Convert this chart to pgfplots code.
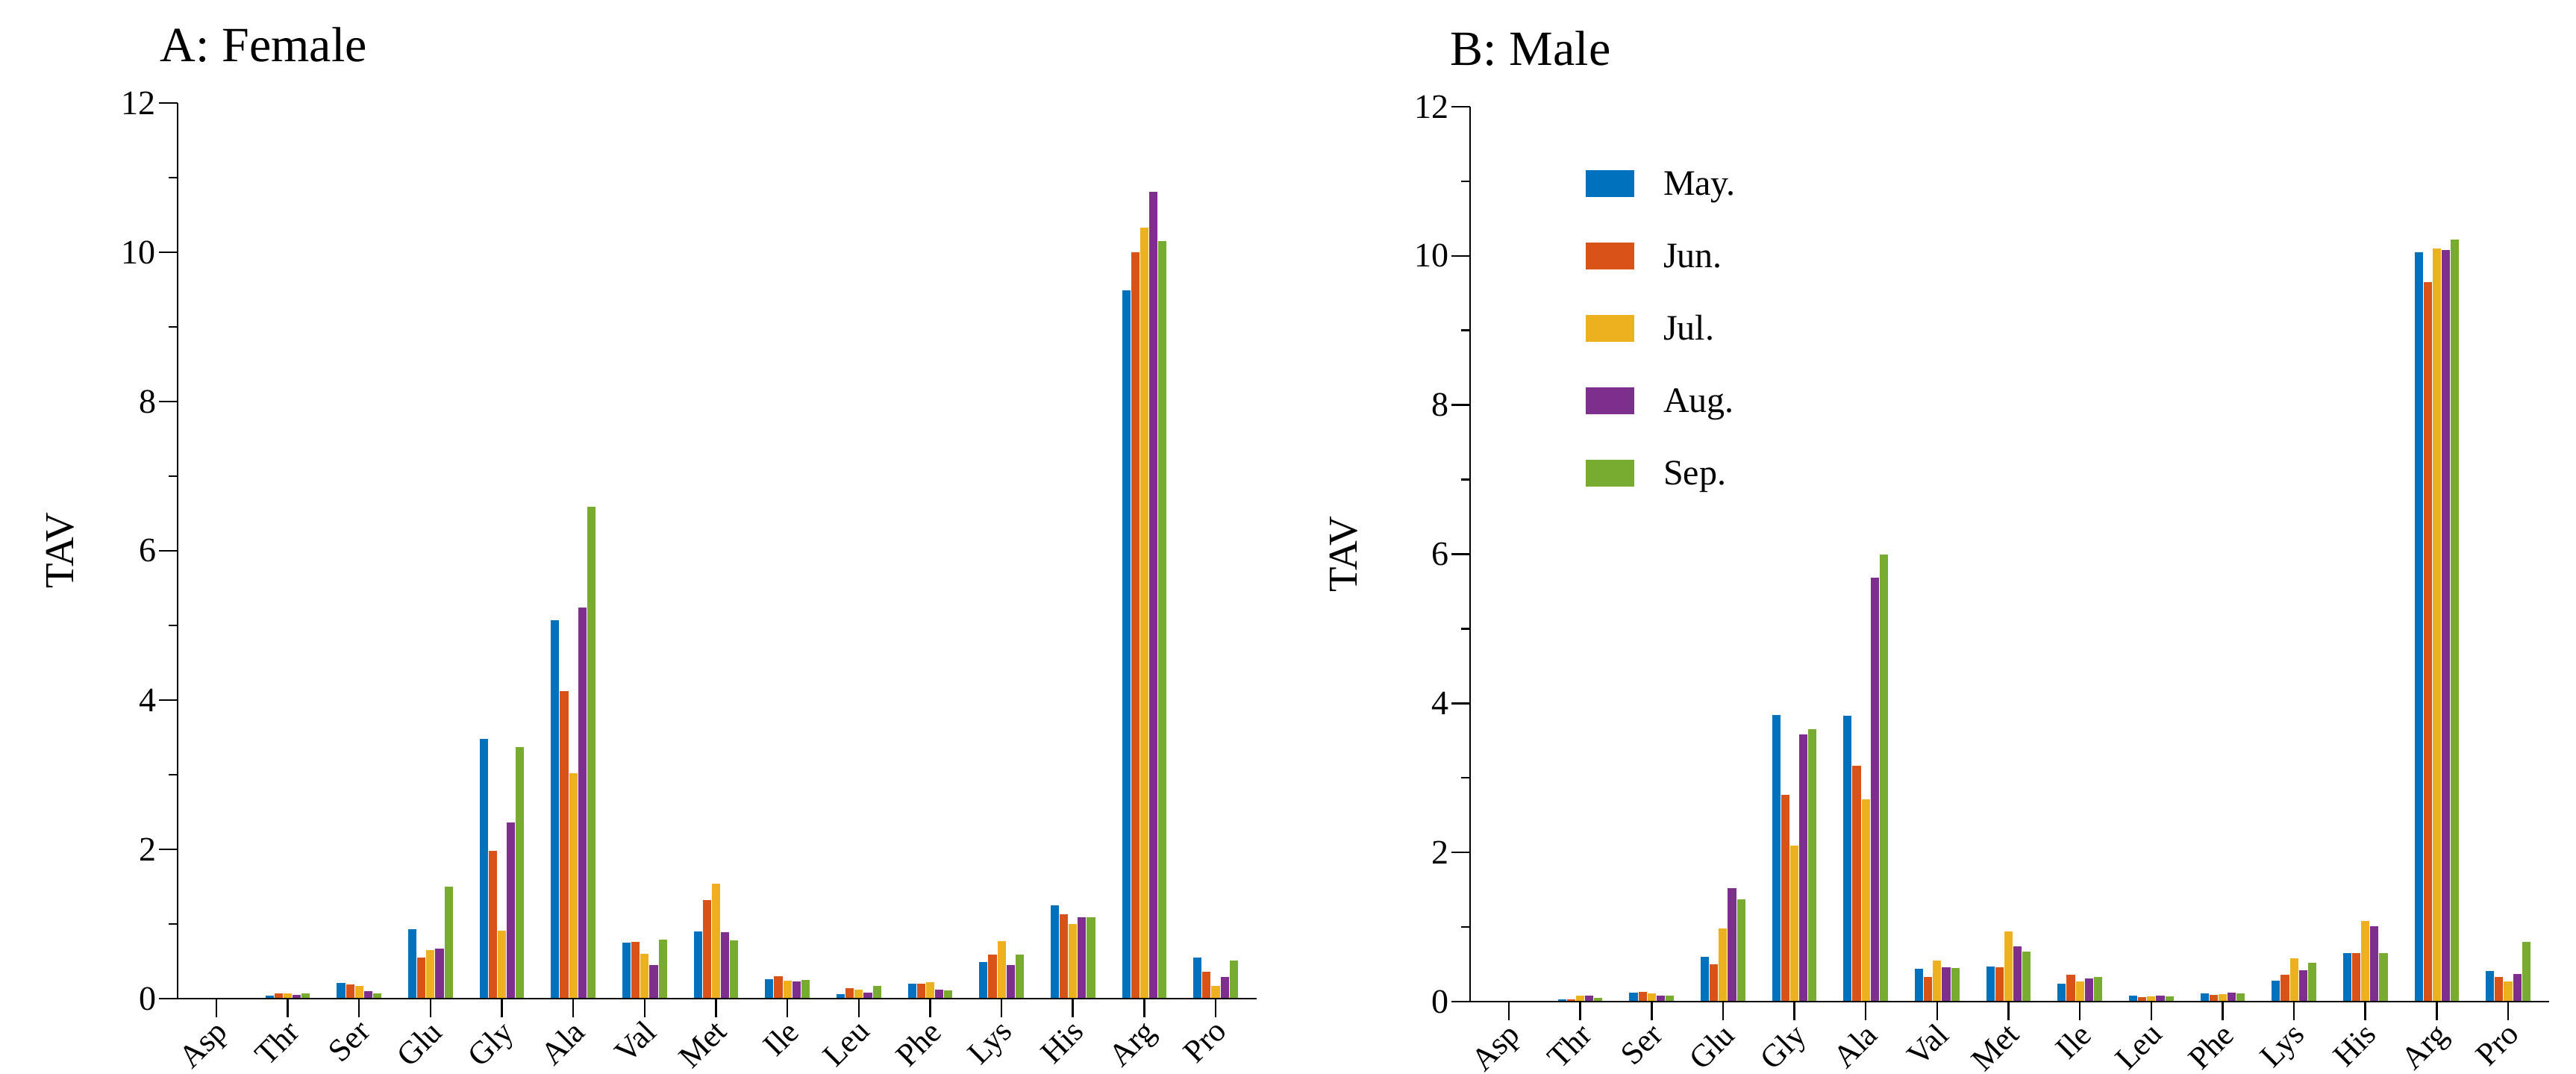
\documentclass[border=0pt]{standalone}
\usepackage{fontspec}
\setmainfont{Liberation Serif}
\usepackage{pgfplots}
\usepackage{pgfplotstable}
\pgfplotsset{compat=1.18}
\definecolor{cMay}{HTML}{0072BD}
\definecolor{cJun}{HTML}{D95319}
\definecolor{cJul}{HTML}{EDB120}
\definecolor{cAug}{HTML}{7E2F8E}
\definecolor{cSep}{HTML}{77AC30}

\pgfplotstableread{
idx May Jun Jul Aug Sep
0 0 0 0 0 0
1 0.04 0.07 0.07 0.05 0.07
2 0.21 0.19 0.17 0.10 0.07
3 0.93 0.55 0.65 0.67 1.50
4 3.48 1.98 0.91 2.36 3.37
5 5.07 4.12 3.02 5.24 6.59
6 0.75 0.76 0.60 0.45 0.79
7 0.90 1.32 1.54 0.89 0.78
8 0.26 0.30 0.24 0.23 0.25
9 0.06 0.14 0.12 0.08 0.17
10 0.20 0.20 0.22 0.12 0.11
11 0.49 0.59 0.77 0.45 0.59
12 1.25 1.13 1.00 1.09 1.09
13 9.49 10.00 10.33 10.81 10.15
14 0.55 0.36 0.17 0.29 0.51
}\dataA

\pgfplotstableread{
idx May Jun Jul Aug Sep
0 0 0 0 0 0
1 0.03 0.03 0.08 0.08 0.05
2 0.12 0.13 0.11 0.08 0.08
3 0.61 0.51 0.99 1.53 1.38
4 3.85 2.78 2.10 3.59 3.66
5 3.84 3.17 2.72 5.69 6.00
6 0.45 0.34 0.56 0.47 0.46
7 0.48 0.47 0.95 0.75 0.68
8 0.24 0.37 0.27 0.32 0.34
9 0.08 0.06 0.07 0.08 0.07
10 0.11 0.09 0.10 0.12 0.11
11 0.28 0.37 0.59 0.43 0.53
12 0.66 0.66 1.09 1.02 0.66
13 10.05 9.65 10.10 10.08 10.22
14 0.42 0.34 0.27 0.38 0.81
}\dataB

\pgfplotsset{
  amino/.style={
    scale only axis, width=289.2pt,
    xmin=-0.543, xmax=14.575, ymin=0, ymax=12,
    axis lines=left, axis line style={-, line width=0.5pt},
    axis on top,
    tick align=outside, major tick length=5pt, minor tick length=2.5pt,
    tick style={black, line width=0.5pt},
    xtick={0,...,14},
    xticklabels={Asp,Thr,Ser,Glu,Gly,Ala,Val,Met,Ile,Leu,Phe,Lys,His,Arg,Pro},
    ytick={0,2,...,12}, minor ytick={1,3,...,11},
    /pgf/number format/assume math mode=true,
    yticklabel style={font=\fontsize{9.2}{10}\selectfont, inner sep=0.6pt},
    xticklabel style={font=\fontsize{8.6}{9}\selectfont, rotate=45, anchor=north east, inner sep=0.5pt, yshift=0.9pt},
    ylabel={TAV},
    ybar=0pt, bar width=0.127,
    every axis plot/.append style={draw=white, line width=0.2pt},
    every axis title shift=0pt,
    title style={font=\fontsize{13.2}{15}\selectfont, anchor=base west, inner sep=0pt},
  }
}

\begin{document}
\begin{tikzpicture}
\useasboundingbox (0,0) rectangle (690.4pt,287.8pt);
\begin{axis}[amino, at={(47.6pt,20.2pt)}, anchor=south west, height=240pt,
  title={A: Female},
  title style={at={(axis description cs:-0.0166,1.0458)}},
  ylabel style={at={(axis description cs:-0.1086,0.5)}, anchor=center, font=\fontsize{11}{12}\selectfont},
]
\addplot[fill=cMay] table[x=idx,y=May]{\dataA};
\addplot[fill=cJun] table[x=idx,y=Jun]{\dataA};
\addplot[fill=cJul] table[x=idx,y=Jul]{\dataA};
\addplot[fill=cAug] table[x=idx,y=Aug]{\dataA};
\addplot[fill=cSep] table[x=idx,y=Sep]{\dataA};
\end{axis}
\begin{axis}[amino, at={(394pt,19.4pt)}, anchor=south west, height=239.8pt,
  title={B: Male},
  title style={at={(axis description cs:-0.0187,1.0459)}},
  ylabel style={at={(axis description cs:-0.1169,0.5)}, anchor=center, font=\fontsize{11}{12}\selectfont},
  legend style={draw=none, fill=none, at={(axis description cs:0.1058,0.935)}, anchor=north west,
    inner sep=0pt, row sep=9.8pt, font=\fontsize{9.6}{11}\selectfont,
    nodes={inner sep=0pt, text height=8pt, text depth=1.6pt},
    /tikz/every odd column/.append style={column sep=7.6pt}},
  legend cell align=left,
  legend image code/.code={\fill[#1] (0pt,-3.7pt) rectangle (13.2pt,3.7pt);},
]
\addplot[fill=cMay] table[x=idx,y=May]{\dataB};
\addplot[fill=cJun] table[x=idx,y=Jun]{\dataB};
\addplot[fill=cJul] table[x=idx,y=Jul]{\dataB};
\addplot[fill=cAug] table[x=idx,y=Aug]{\dataB};
\addplot[fill=cSep] table[x=idx,y=Sep]{\dataB};
\legend{May.,Jun.,Jul.,Aug.,Sep.}
\end{axis}
\end{tikzpicture}
\end{document}
